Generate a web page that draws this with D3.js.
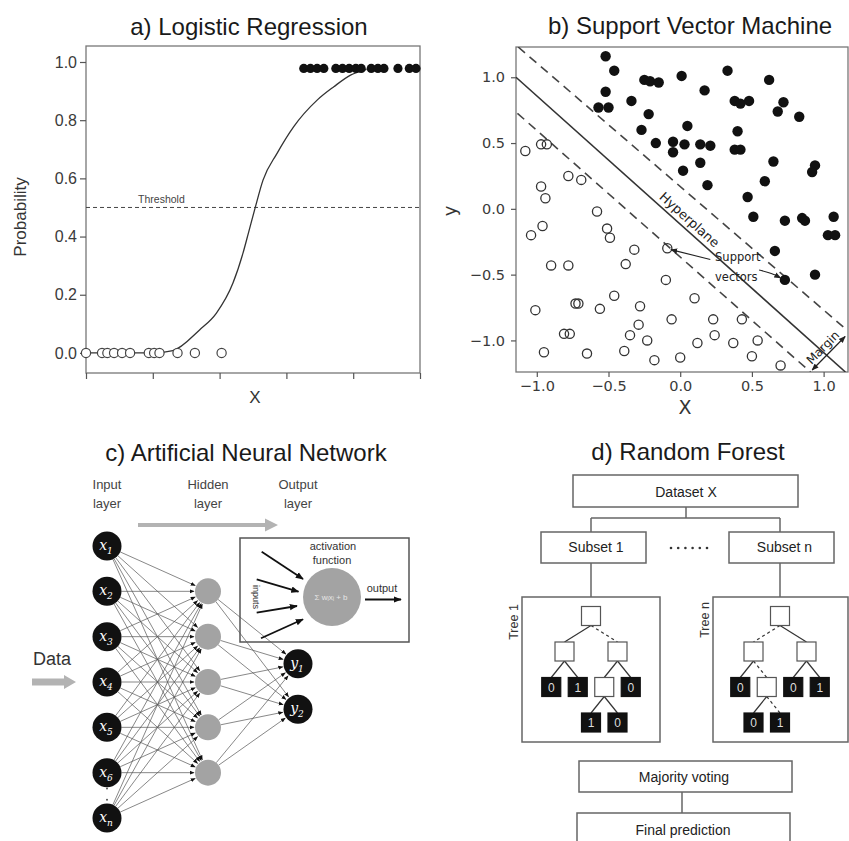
<!DOCTYPE html>
<html>
<head>
<meta charset="utf-8">
<script src="https://cdn.jsdelivr.net/npm/d3@7"></script>
<style>
body { margin: 0; background: #fff; }
text { font-family: "Liberation Sans", Arial, sans-serif; }
</style>
</head>
<body>
<svg id="fig" width="849" height="841"></svg>
<script>
// ---- a) logistic regression data
var lrNeg = [0.0, 0.24, 0.32, 0.42, 0.54, 0.66, 0.94, 1.02, 1.10, 1.37, 1.63, 2.03];
var lrPos = [3.26, 3.36, 3.46, 3.56, 3.74, 3.84, 3.94, 4.04, 4.12, 4.27, 4.37, 4.46, 4.67, 4.84, 4.94];
var lrPosProb = 0.978;
var lrCurve = [[0, 0], [1.0, 0.0], [1.3, 0.008], [1.7, 0.079], [1.95, 0.136], [2.2, 0.24], [2.35, 0.343],
  [2.43, 0.411], [2.53, 0.497], [2.65, 0.594], [2.86, 0.686], [3.11, 0.778], [3.46, 0.869],
  [3.71, 0.915], [3.96, 0.955], [4.2, 0.975]];
var lrYTicks = [0, 0.2, 0.4, 0.6, 0.8, 1.0];
var lrXTicks = [0, 1, 2, 3, 4, 5];
var lrThreshold = 0.5;

// ---- b) SVM data
var svmPos = [[-0.52,1.16],[-0.46,1.05],[-0.52,0.89],[-0.57,0.77],[-0.50,0.77],[-0.34,0.82],[-0.25,0.98],
  [-0.21,0.97],[-0.15,0.96],[-0.22,0.72],[-0.27,0.60],[-0.17,0.50],[-0.05,0.51],[-0.05,0.43],[0.03,0.49],
  [0.01,1.01],[0.05,0.63],[0.02,0.29],[0.17,0.90],[0.14,0.49],[0.21,0.48],[0.14,0.35],[0.19,0.18],
  [0.33,1.05],[0.38,0.82],[0.42,0.80],[0.48,0.82],[0.40,0.59],[0.38,0.45],[0.42,0.45],[0.62,0.98],
  [0.72,0.81],[0.68,0.74],[0.83,0.70],[0.65,0.36],[0.59,0.21],[0.47,0.09],[0.51,-0.06],[0.73,-0.09],
  [0.85,-0.07],[0.87,-0.09],[1.07,-0.06],[0.94,0.33],[0.92,0.28],[1.03,-0.20],[1.08,-0.20],[0.66,-0.32],
  [0.73,-0.54],[0.94,-0.50]];
var svmNeg = [[-1.08,0.44],[-0.97,0.49],[-0.93,0.49],[-0.78,0.25],[-0.69,0.22],[-0.97,0.17],[-0.94,0.08],
  [-0.58,-0.02],[-0.96,-0.13],[-1.04,-0.20],[-0.51,-0.15],[-0.49,-0.22],[-0.32,-0.31],[-0.90,-0.43],
  [-0.78,-0.43],[-0.38,-0.42],[-0.10,-0.54],[-0.09,-0.30],[-1.01,-0.77],[-0.73,-0.72],[-0.71,-0.72],
  [-0.56,-0.76],[-0.46,-0.66],[-0.28,-0.74],[-0.81,-0.95],[-0.77,-0.95],[-0.95,-1.09],[-0.65,-1.10],
  [-0.39,-1.08],[-0.35,-0.96],[-0.29,-0.88],[-0.23,-1.00],[-0.18,-1.15],[-0.06,-0.84],[0.00,-1.13],
  [0.10,-0.68],[0.12,-1.02],[0.23,-0.84],[0.24,-0.96],[0.37,-1.02],[0.43,-0.84],[0.54,-1.00],
  [0.50,-1.12],[0.70,-1.19]];
var svmHyperplane = [[-1.145, 1.0], [1.152, -1.24]];
var svmMarginUpper = [[-1.13, 1.23], [1.14, -0.90]];
var svmMarginLower = [[-1.135, 0.726], [0.908, -1.24]];
var svmTicks = [-1.0, -0.5, 0.0, 0.5, 1.0];

// ---- c) neural network
var nnInputs = ["1", "2", "3", "4", "5", "6", "n"];
var nnInputRows = [0, 1, 2, 3, 4, 5, 6];
var nnHiddenRows = [1, 2, 3, 4, 5];
var nnOutputs = ["1", "2"];
var nnOutputRows = [2.6, 3.6];
var nnLayers = ["Input", "Hidden", "Output"];

// ---- d) random forest
var rfDataset = "Dataset X";
var rfSubsets = ["Subset 1", "Subset n"];
var rfTreeNames = ["Tree 1", "Tree n"];
var rfTrees = [
  {children: [{children: [{v: "0"}, {v: "1"}]},
              {dash: true, children: [{children: [{v: "1"}, {v: "0"}]}, {v: "0"}]}]},
  {children: [{dash: true, children: [{v: "0"}, {dash: true, children: [{v: "0"}, {dash: true, v: "1"}]}]},
              {children: [{v: "0"}, {v: "1"}]}]}
];
var rfBottom = ["Majority voting", "Final prediction"];

var svg = d3.select("#fig");
svg.append("rect").attr("width", 849).attr("height", 841).attr("fill", "#fff");

var defs = svg.append("defs");
function marker(id, size, color) {
  defs.append("marker").attr("id", id)
    .attr("viewBox", "0 0 10 10").attr("refX", 9).attr("refY", 5)
    .attr("markerWidth", size).attr("markerHeight", size)
    .attr("markerUnits", "userSpaceOnUse")
    .attr("orient", "auto-start-reverse")
    .append("path").attr("d", "M0,1L10,5L0,9z").attr("fill", color);
}
marker("ahNet", 5, "#111");
marker("ahBig", 8, "#111");
marker("ahSvm", 7, "#222");

function title(x, y, t) {
  svg.append("text").attr("x", x).attr("y", y).attr("text-anchor", "middle")
    .style("font-size", "24px").attr("fill", "#1a1a1a").text(t);
}
function styleAxis(g, fs, fam) {
  g.select(".domain").remove();
  g.selectAll(".tick line").attr("stroke", "#555").attr("stroke-width", 1.2);
  g.selectAll(".tick text").attr("fill", "#3a3a3a").style("font-size", fs + "px").style("font-family", fam);
}

// ===================== a) Logistic Regression
var ax = d3.scaleLinear().domain([0, 5]).range([86, 420]);
var ay = d3.scaleLinear().domain([-0.069, 1.055]).range([373, 46]);
var ga = svg.append("g");
title(249, 35, "a) Logistic Regression");
ga.append("rect").attr("x", ax.range()[0]).attr("y", ay.range()[1])
  .attr("width", ax.range()[1] - ax.range()[0]).attr("height", ay.range()[0] - ay.range()[1])
  .attr("fill", "none").attr("stroke", "#777").attr("stroke-width", 1.3);
var gay = ga.append("g").attr("transform", "translate(" + ax.range()[0] + ",0)")
  .call(d3.axisLeft(ay).tickValues(lrYTicks).tickFormat(d3.format(".1f")).tickSize(6).tickPadding(3));
styleAxis(gay, 16, "Liberation Sans, Arial, sans-serif");
var gax = ga.append("g").attr("transform", "translate(0," + ay.range()[0] + ")")
  .call(d3.axisBottom(ax).tickValues(lrXTicks).tickFormat("").tickSize(6));
styleAxis(gax, 12, "Liberation Sans");

ga.append("line").attr("x1", ax.range()[0]).attr("x2", ax.range()[1])
  .attr("y1", ay(lrThreshold)).attr("y2", ay(lrThreshold))
  .attr("stroke", "#444").attr("stroke-dasharray", "4,3").attr("stroke-width", 1);
ga.append("text").attr("x", ax(0.78)).attr("y", ay(lrThreshold) - 4)
  .style("font-size", "10.5px").attr("fill", "#444").text("Threshold");

ga.append("path").datum(lrCurve)
  .attr("d", d3.line().x(function(d) { return ax(d[0]); }).y(function(d) { return ay(d[1]); }).curve(d3.curveMonotoneX))
  .attr("fill", "none").attr("stroke", "#333").attr("stroke-width", 1.3);

ga.selectAll("circle.neg").data(lrNeg).enter().append("circle")
  .attr("cx", function(d) { return ax(d); }).attr("cy", ay(0)).attr("r", 4.6)
  .attr("fill", "#fff").attr("stroke", "#444").attr("stroke-width", 1.2);
ga.selectAll("circle.pos").data(lrPos).enter().append("circle")
  .attr("cx", function(d) { return ax(d); }).attr("cy", ay(lrPosProb)).attr("r", 4.6)
  .attr("fill", "#111");

ga.append("text").attr("transform", "translate(26,217) rotate(-90)").attr("text-anchor", "middle")
  .style("font-size", "17px").attr("fill", "#333").text("Probability");
ga.append("text").attr("x", 255).attr("y", 403).attr("text-anchor", "middle")
  .style("font-size", "17px").attr("fill", "#333").text("X");

// ===================== b) Support Vector Machine
var dv = "DejaVu Sans, sans-serif";
var bx = d3.scaleLinear().domain([-1.145, 1.17]).range([516, 848]);
var by = d3.scaleLinear().domain([-1.24, 1.23]).range([372, 47]);
var gb = svg.append("g");
title(690, 34, "b) Support Vector Machine");
defs.append("clipPath").attr("id", "clipB").append("rect")
  .attr("x", bx.range()[0]).attr("y", by.range()[1])
  .attr("width", bx.range()[1] - bx.range()[0]).attr("height", by.range()[0] - by.range()[1]);
gb.append("rect").attr("x", bx.range()[0]).attr("y", by.range()[1])
  .attr("width", bx.range()[1] - bx.range()[0]).attr("height", by.range()[0] - by.range()[1])
  .attr("fill", "none").attr("stroke", "#777").attr("stroke-width", 1.3);
var gby = gb.append("g").attr("transform", "translate(" + bx.range()[0] + ",0)")
  .call(d3.axisLeft(by).tickValues(svmTicks).tickFormat(d3.format(".1f")).tickSize(5).tickPadding(6));
styleAxis(gby, 14.5, dv);
var gbx = gb.append("g").attr("transform", "translate(0," + by.range()[0] + ")")
  .call(d3.axisBottom(bx).tickValues(svmTicks).tickFormat(d3.format(".1f")).tickSize(5).tickPadding(4));
styleAxis(gbx, 14.5, dv);

var bline = d3.line().x(function(d) { return bx(d[0]); }).y(function(d) { return by(d[1]); });
var gclip = gb.append("g").attr("clip-path", "url(#clipB)");
gclip.append("path").datum(svmHyperplane).attr("d", bline)
  .attr("stroke", "#333").attr("stroke-width", 1.6).attr("fill", "none");
[svmMarginUpper, svmMarginLower].forEach(function(l) {
  gclip.append("path").datum(l).attr("d", bline)
    .attr("stroke", "#444").attr("stroke-width", 1.6).attr("stroke-dasharray", "9,6").attr("fill", "none");
});

gclip.selectAll("circle.n").data(svmNeg).enter().append("circle")
  .attr("cx", function(d) { return bx(d[0]); }).attr("cy", function(d) { return by(d[1]); })
  .attr("r", 4.6).attr("fill", "none").attr("stroke", "#333").attr("stroke-width", 1.3);
gclip.selectAll("circle.p").data(svmPos).enter().append("circle")
  .attr("cx", function(d) { return bx(d[0]); }).attr("cy", function(d) { return by(d[1]); })
  .attr("r", 5.2).attr("fill", "#111");

// hyperplane label along the line
var hp0 = svmHyperplane[0], hp1 = svmHyperplane[1];
var ang = Math.atan2(by(hp1[1]) - by(hp0[1]), bx(hp1[0]) - bx(hp0[0])) * 180 / Math.PI;
var lx = 0.02, ly = hp0[1] + (lx - hp0[0]) * (hp1[1] - hp0[1]) / (hp1[0] - hp0[0]);
gb.append("text").attr("transform", "translate(" + bx(lx) + "," + by(ly) + ") rotate(" + ang + ")")
  .attr("text-anchor", "middle").attr("dy", -5).style("font-size", "13px").style("font-family", dv)
  .attr("fill", "#222").text("Hyperplane");

gb.append("text").attr("x", bx(0.243)).attr("y", by(-0.40)).style("font-size", "11.5px")
  .style("font-family", dv).attr("fill", "#222").text("Support");
gb.append("text").attr("x", bx(0.243)).attr("y", by(-0.548)).style("font-size", "11.5px")
  .style("font-family", dv).attr("fill", "#222").text("vectors");
gb.append("path").datum([[0.21, -0.385], [-0.065, -0.31]]).attr("d", bline)
  .attr("stroke", "#222").attr("stroke-width", 1.1).attr("fill", "none").attr("marker-end", "url(#ahSvm)");
gb.append("path").datum([[0.55, -0.465], [0.64, -0.49], [0.70, -0.525]])
  .attr("d", bline.curve(d3.curveBasis))
  .attr("stroke", "#222").attr("stroke-width", 1.1).attr("fill", "none").attr("marker-end", "url(#ahSvm)");
bline.curve(d3.curveLinear);

// margin
var mA = [0.92, -1.225], mB = [1.15, -0.97];
gb.append("path").datum([mA, mB]).attr("d", bline).attr("stroke", "#222").attr("stroke-width", 1.2)
  .attr("marker-start", "url(#ahSvm)").attr("marker-end", "url(#ahSvm)");
var mAng = Math.atan2(by(mB[1]) - by(mA[1]), bx(mB[0]) - bx(mA[0])) * 180 / Math.PI;
gb.append("text").attr("transform", "translate(" + bx((mA[0] + mB[0]) / 2) + "," + by((mA[1] + mB[1]) / 2) + ") rotate(" + mAng + ")")
  .attr("text-anchor", "middle").attr("dy", -4).style("font-size", "12px").style("font-family", dv)
  .attr("fill", "#222").text("Margin");

gb.append("text").attr("transform", "translate(456,211) rotate(-90)").attr("text-anchor", "middle")
  .style("font-size", "18px").style("font-family", dv).attr("fill", "#333").text("y");
gb.append("text").attr("x", 685).attr("y", 414).attr("text-anchor", "middle")
  .style("font-size", "19px").style("font-family", dv).attr("fill", "#333").text("X");

// ===================== c) Artificial Neural Network
var gc = svg.append("g");
title(246, 461, "c) Artificial Neural Network");
var rowY = d3.scaleLinear().domain([0, 6]).range([546, 818]);
var layerX = d3.scaleOrdinal().domain(nnLayers).range([107, 208, 298]);
var rIn = 14.5, rHid = 13, rOut = 14.5;

nnLayers.forEach(function(l) {
  gc.append("text").attr("x", layerX(l)).attr("y", 489).attr("text-anchor", "middle")
    .style("font-size", "13px").attr("fill", "#444").text(l);
  gc.append("text").attr("x", layerX(l)).attr("y", 508).attr("text-anchor", "middle")
    .style("font-size", "13px").attr("fill", "#444").text("layer");
});

// grey arrows
function fatArrow(x0, x1, y, w, hl, hw) {
  gc.append("path").attr("d",
    "M" + x0 + "," + (y - w / 2) + "L" + (x1 - hl) + "," + (y - w / 2) + "L" + (x1 - hl) + "," + (y - hw / 2) +
    "L" + x1 + "," + y + "L" + (x1 - hl) + "," + (y + hw / 2) + "L" + (x1 - hl) + "," + (y + w / 2) +
    "L" + x0 + "," + (y + w / 2) + "Z").attr("fill", "#b3b3b3");
}
fatArrow(138, 278, 525, 4, 13, 13);
fatArrow(32, 76, 682, 7, 12, 14);
gc.append("text").attr("x", 52).attr("y", 665).attr("text-anchor", "middle")
  .style("font-size", "18px").attr("fill", "#333").text("Data");

function edge(x0, y0, r0, x1, y1, r1) {
  var dx = x1 - x0, dy = y1 - y0, d = Math.sqrt(dx * dx + dy * dy);
  gc.append("line").attr("x1", x0 + dx / d * r0).attr("y1", y0 + dy / d * r0)
    .attr("x2", x1 - dx / d * r1).attr("y2", y1 - dy / d * r1)
    .attr("stroke", "#555").attr("stroke-width", 0.7).attr("marker-end", "url(#ahNet)");
}
nnInputRows.forEach(function(ri) {
  nnHiddenRows.forEach(function(rh) {
    edge(layerX("Input"), rowY(ri), rIn, layerX("Hidden"), rowY(rh), rHid + 1);
  });
});
nnHiddenRows.forEach(function(rh) {
  nnOutputRows.forEach(function(ro) {
    edge(layerX("Hidden"), rowY(rh), rHid, layerX("Output"), rowY(ro), rOut + 1);
  });
});

function xNode(cx, cy, r, base, sub) {
  gc.append("circle").attr("cx", cx).attr("cy", cy).attr("r", r).attr("fill", "#111");
  var t = gc.append("text").attr("x", cx - 1).attr("y", cy + 4).attr("text-anchor", "middle")
    .style("font-family", "DejaVu Serif, serif").style("font-style", "italic")
    .style("font-size", "14px").attr("fill", "#fff");
  t.append("tspan").text(base);
  t.append("tspan").attr("dy", 4).style("font-size", "9px").text(sub);
}
nnInputs.forEach(function(s, i) { xNode(layerX("Input"), rowY(nnInputRows[i]), rIn, "x", s); });
nnHiddenRows.forEach(function(rh) {
  gc.append("circle").attr("cx", layerX("Hidden")).attr("cy", rowY(rh)).attr("r", rHid).attr("fill", "#a3a3a3");
});
nnOutputs.forEach(function(s, i) { xNode(layerX("Output"), rowY(nnOutputRows[i]), rOut, "y", s); });
[0.35, 0.6].forEach(function(f) {
  gc.append("circle").attr("cx", layerX("Input")).attr("cy", rowY(5 + f)).attr("r", 1).attr("fill", "#555");
});

// inset: single neuron
gc.append("rect").attr("x", 240).attr("y", 538).attr("width", 169).attr("height", 104)
  .attr("fill", "none").attr("stroke", "#555").attr("stroke-width", 1.5);
gc.append("circle").attr("cx", 332).attr("cy", 597).attr("r", 29).attr("fill", "#a3a3a3");
gc.append("text").attr("x", 333).attr("y", 550).attr("text-anchor", "middle").style("font-size", "11px")
  .attr("fill", "#333").text("activation");
gc.append("text").attr("x", 332).attr("y", 564).attr("text-anchor", "middle").style("font-size", "11px")
  .attr("fill", "#333").text("function");
gc.append("text").attr("x", 331).attr("y", 600).attr("text-anchor", "middle").style("font-size", "8px")
  .attr("fill", "#e6e6e6").text("\u03a3 w\u1d62x\u1d62 + b");
gc.append("text").attr("transform", "translate(253,597) rotate(90)").attr("text-anchor", "middle")
  .style("font-size", "9px").attr("fill", "#333").text("inputs");
[[261.7, 551.7, 303, 579], [256.7, 579.3, 298.5, 591.7], [256.7, 612.7, 297, 606], [261, 638.3, 303, 619.3]].forEach(function(a) {
  gc.append("line").attr("x1", a[0]).attr("y1", a[1]).attr("x2", a[2]).attr("y2", a[3])
    .attr("stroke", "#111").attr("stroke-width", 1.8).attr("marker-end", "url(#ahBig)");
});
gc.append("text").attr("x", 382).attr("y", 592).attr("text-anchor", "middle").style("font-size", "11px")
  .attr("fill", "#333").text("output");
gc.append("line").attr("x1", 365).attr("y1", 599.5).attr("x2", 401).attr("y2", 599.5)
  .attr("stroke", "#111").attr("stroke-width", 1.8).attr("marker-end", "url(#ahBig)");

// ===================== d) Random Forest
var gd = svg.append("g");
title(688, 460, "d) Random Forest");
var boxStroke = "#666";
function box(x0, y0, x1, y1, label, tx, ty) {
  gd.append("rect").attr("x", x0).attr("y", y0).attr("width", x1 - x0).attr("height", y1 - y0)
    .attr("fill", "#fff").attr("stroke", boxStroke).attr("stroke-width", 1.5);
  if (label) gd.append("text").attr("x", tx).attr("y", ty).attr("text-anchor", "middle")
    .style("font-size", "14px").attr("fill", "#222").text(label);
}
function seg(x0, y0, x1, y1) {
  gd.append("line").attr("x1", x0).attr("y1", y0).attr("x2", x1).attr("y2", y1)
    .attr("stroke", boxStroke).attr("stroke-width", 1.5);
}
var subX = [591, 780];
seg(686, 507, 686, 518);
seg(subX[0], 518, subX[1], 518);
subX.forEach(function(x) { seg(x, 518, x, 532); seg(x, 563, x, 597); });
box(573, 475, 798, 507, rfDataset, 686, 497);
box(541, 532, 646, 563, rfSubsets[0], 596, 552);
box(729, 532, 834, 563, rfSubsets[1], 784.5, 552);
d3.range(6).forEach(function(i) {
  gd.append("circle").attr("cx", 671 + i * 7.2).attr("cy", 548).attr("r", 1.3).attr("fill", "#333");
});

var treeBoxes = [[522, 597, 660, 742], [713, 597, 848, 742]];
var treeLabelPos = [[518, 622], [709, 620]];
var treeLayout = d3.tree().nodeSize([26.5, 35.5]).separation(function() { return 1; });
var sq = 19;
rfTrees.forEach(function(t, i) {
  var b = treeBoxes[i];
  box(b[0], b[1], b[2], b[3]);
  gd.append("text").attr("transform", "translate(" + treeLabelPos[i][0] + "," + treeLabelPos[i][1] + ") rotate(-90)")
    .attr("text-anchor", "middle").style("font-size", "12.5px").attr("fill", "#333").text(rfTreeNames[i]);
  var root = treeLayout(d3.hierarchy(t));
  var ox = subX[i], oy = 616;
  var g = gd.append("g").attr("transform", "translate(" + ox + "," + oy + ")");
  root.links().forEach(function(l) {
    g.append("line").attr("x1", l.source.x).attr("y1", l.source.y + sq / 2)
      .attr("x2", l.target.x).attr("y2", l.target.y - sq / 2)
      .attr("stroke", "#333").attr("stroke-width", 1.2)
      .attr("stroke-dasharray", l.target.data.dash ? "3,3" : null);
  });
  root.descendants().forEach(function(n) {
    var leaf = n.data.v !== undefined;
    g.append("rect").attr("x", n.x - sq / 2).attr("y", n.y - sq / 2).attr("width", sq).attr("height", sq)
      .attr("fill", leaf ? "#111" : "#fff").attr("stroke", leaf ? "#111" : "#555").attr("stroke-width", 1.2);
    if (leaf) g.append("text").attr("x", n.x).attr("y", n.y + 4.5).attr("text-anchor", "middle")
      .style("font-size", "12px").attr("fill", "#ddd").text(n.data.v);
  });
});

seg(682, 792, 682, 813);
box(579, 761, 792, 792, rfBottom[0], 684, 782);
box(577, 813, 790, 860, rfBottom[1], 683, 835);
</script>
</body>
</html>
